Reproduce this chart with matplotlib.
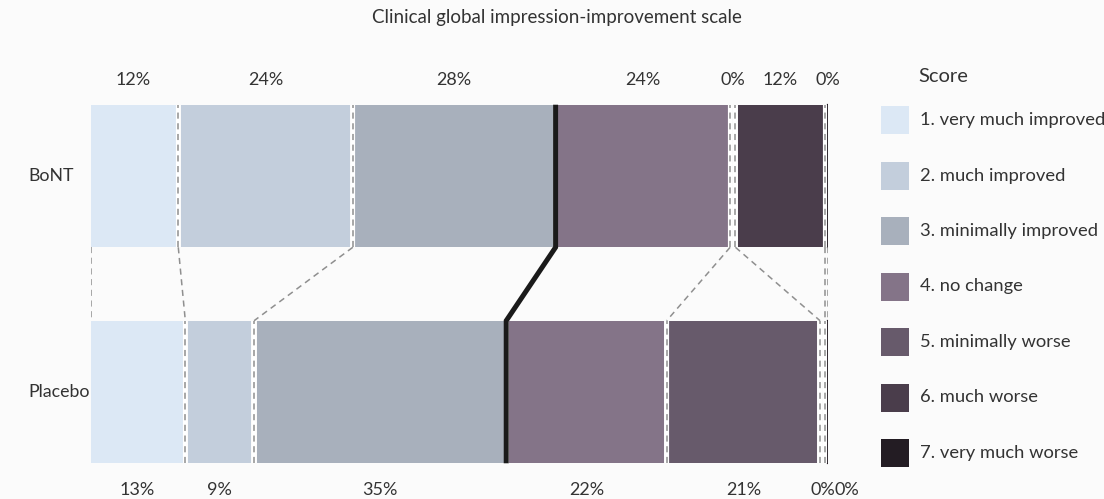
import matplotlib.pyplot as plt
from matplotlib.patches import Rectangle
import numpy as np

plt.rcParams['font.family'] = ['Lato', 'DejaVu Sans']

groups = ['BoNT', 'Placebo']
scores = ['1. very much improved', '2. much improved', '3. minimally improved',
          '4. no change', '5. minimally worse', '6. much worse', '7. very much worse']
bont = [12, 24, 28, 24, 0, 12, 0]
placebo = [13, 9, 35, 22, 21, 0, 0]
colors = ['#dce8f5', '#c3cedc', '#a8b0bc', '#847488', '#675a6b', '#4a3d4b', '#231c23']

bg = '#fbfbfb'
txt = '#333333'
gap = 0.75
bar_h = 0.66

fig = plt.figure(figsize=(11.04, 4.99), dpi=100, facecolor=bg)
ax = fig.add_axes([91 / 1104, 0, 737 / 1104, 469 / 499])
ax.set_facecolor(bg)
ax.set_xlim(0, 100 + 6 * gap)
ax.set_ylim(-107 / 216, 1 + 146 / 216)
ax.axis('off')


def edges(vals):
    cum = np.concatenate([[0], np.cumsum(vals)])
    starts = [cum[k] + k * gap for k in range(len(vals))]
    ends = [starts[k] + vals[k] for k in range(len(vals))]
    return starts, ends


rows = {'BoNT': (1, bont), 'Placebo': (0, placebo)}
bounds = {}
for name, (y, vals) in rows.items():
    starts, ends = edges(vals)
    for k, v in enumerate(vals):
        if v > 0:
            ax.barh(y, v, left=starts[k], height=bar_h, color=colors[k], lw=0)
        elif k == len(vals) - 1:
            ax.plot([starts[k]] * 2, [y - bar_h / 2, y + bar_h / 2], color=colors[k], lw=1.6)
    # boundary dashed lines in the gaps
    b = [ends[k] + gap / 2 for k in range(len(vals) - 1)]
    bounds[name] = [0] + b + [starts[-1]]
    for k, x in enumerate(b):
        if k == 2:
            continue
        ax.plot([x, x], [y - bar_h / 2, y + bar_h / 2], color='white', lw=3, solid_capstyle='butt')
        ax.plot([x, x], [y - bar_h / 2, y + bar_h / 2], color='#8f8f8f', lw=1.1,
                dashes=(4, 3))
    # percent labels
    centers = [s + v / 2 for s, v in zip(starts, vals)]
    ly = 1 + (176 - 80) / 216 if y == 1 else -(490 - 392) / 216
    prev = -10
    for c, v in zip(centers, vals):
        if c - prev < 3.4:
            c = prev + 3.4
        ax.text(c, ly, f'{v}%', ha='center', va='center', fontsize=13, color=txt)
        prev = c
    ax.text(-63 / 7.05, y, name, ha='left', va='center', fontsize=12.8, color=txt)

# connectors between bars
top_b = bounds['BoNT']
bot_b = bounds['Placebo']
y_top = 1 - bar_h / 2
y_bot = bar_h / 2
for k, (xt, xb) in enumerate(zip(top_b, bot_b)):
    if k == 3:
        continue
    ax.plot([xt, xb], [y_top, y_bot], color='#8f8f8f', lw=1.1, dashes=(4, 3))

# improvement / no improvement divider
xt, xb = top_b[3], bot_b[3]
ax.plot([xt, xt, xb, xb], [1 + bar_h / 2, y_top, y_bot, -bar_h / 2],
        color='#1a1a1a', lw=3.6, solid_joinstyle='miter', solid_capstyle='butt')

fig.text(557 / 1104, 1 - 18 / 499, 'Clinical global impression-improvement scale',
         ha='center', va='center', fontsize=13.5, color=txt)

# legend
W, H = 1104, 499
fig.text(918 / W, 1 - 77 / H, 'Score', ha='left', va='center', fontsize=14.5, color=txt)
for i, (lab, c) in enumerate(zip(scores, colors)):
    yc = 120 + i * 55.5
    fig.add_artist(Rectangle((881 / W, 1 - (yc + 14) / H), 28 / W, 28 / H,
                             transform=fig.transFigure, facecolor=c, lw=0))
    fig.text(920 / W, 1 - yc / H, lab, ha='left', va='center', fontsize=13.2, color=txt)

fig.savefig('out.png', dpi=100, facecolor=bg)
